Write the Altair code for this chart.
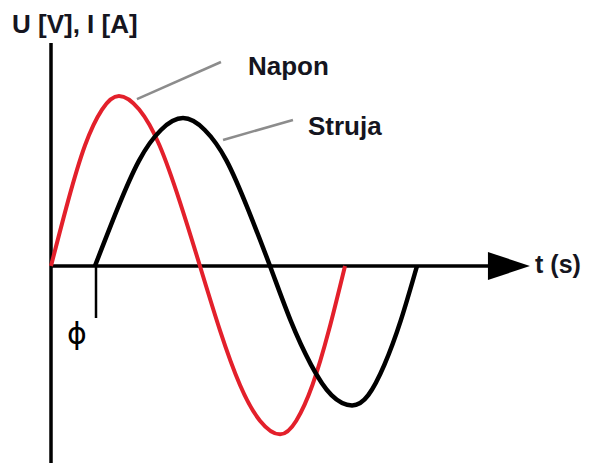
import altair as alt
import pandas as pd

# Napon (voltage) curve: time in ms, value relative to voltage peak
u_t = [0, 1.13, 2.27, 3.4, 4.53, 5.88, 7.23, 8.58, 9.93, 11.27, 12.6, 13.93, 15.27, 16.35, 17.43, 18.52, 19.6]
u_v = [0, 0.38, 0.71, 0.92, 1.0, 0.92, 0.71, 0.38, 0, -0.38, -0.70, -0.91, -0.99, -0.91, -0.70, -0.38, 0]
# Struja (current) curve
i_t = [2.93, 4.4, 5.87, 7.33, 8.8, 10.25, 11.7, 13.15, 14.6, 15.97, 17.33, 18.7, 20.07, 21.15, 22.23, 23.32, 24.4]
i_v = [0, 0.33, 0.62, 0.80, 0.87, 0.80, 0.62, 0.33, 0, -0.32, -0.58, -0.76, -0.82, -0.76, -0.58, -0.32, 0]

# axes (drawn, no ticks)
axis_x = [{"t": 0, "t2": 29.3, "v": 0, "v2": 0}]
axis_y = [{"t": 0, "t2": 0, "v": -1.1588, "v2": 1.3118}]
phase_tick = [{"t": 3.0, "t2": 3.0, "v": 0, "v2": -0.306}]
arrow = [{"t": 30.53, "v": 0}]

# leader lines to the series labels
leaders = [
    {"t": 5.73, "v": 0.982, "t2": 11.33, "v2": 1.2},
    {"t": 11.47, "v": 0.741, "t2": 16.13, "v2": 0.859},
]

labels = ["U [V], I [A]", "Napon", "Struja", "t (s)"]
label_t = [-2.6, 13.13, 17.13, 32.27]
label_v = [1.3706, 1.1235, 0.7706, -0.041]
label_size = [26, 26, 26, 25]

phi_label = ["ϕ"]
phi_t = [1.733]
phi_v = [-0.406]

xs = alt.Scale(domain=[-2.867, 35.467], nice=False, zero=False)
ys = alt.Scale(domain=[-1.1588, 1.5176], nice=False, zero=False)

def X(f="t"):
    return alt.X(f + ":Q", scale=xs, axis=None)

def Y(f="v"):
    return alt.Y(f + ":Q", scale=ys, axis=None)

df_u = pd.DataFrame({"t": u_t, "v": u_v})
df_i = pd.DataFrame({"t": i_t, "v": i_v})

base_rule = lambda data, color, w: alt.Chart(pd.DataFrame(data)).mark_rule(
    color=color, strokeWidth=w, strokeCap="butt"
).encode(x=X(), x2="t2:Q", y=Y(), y2="v2:Q")

ax_x = base_rule(axis_x, "black", 3.5)
ax_y = base_rule(axis_y, "black", 3.5)
ph = base_rule(phase_tick, "black", 2.5)
lead = base_rule(leaders, "#8c8c8c", 2.5)

arrow_head = alt.Chart(pd.DataFrame(arrow)).mark_point(
    shape="M-1,-0.667L1,0L-1,0.667Z", size=1764, filled=True, color="black", opacity=1, strokeWidth=0
).encode(x=X(), y=Y())

red = alt.Chart(df_u).mark_line(color="#e3202b", strokeWidth=4, interpolate="natural").encode(
    x=X(), y=Y(), order="t:Q"
)
blk = alt.Chart(df_i).mark_line(color="black", strokeWidth=4.5, interpolate="natural").encode(
    x=X(), y=Y(), order="t:Q"
)

txt = alt.Chart(pd.DataFrame({"t": label_t, "v": label_v, "label": labels, "size": label_size})).mark_text(
    font="Liberation Sans", fontWeight="bold", align="left", baseline="alphabetic", color="#151520"
).encode(x=X(), y=Y(), text="label:N", size=alt.Size("size:Q", scale=None, legend=None))

phi = alt.Chart(pd.DataFrame({"t": phi_t, "v": phi_v, "label": phi_label})).mark_text(
    font="DejaVu Sans", fontSize=30, align="center", baseline="middle", color="black"
).encode(x=X(), y=Y(), text="label:N")

chart = alt.layer(ax_x, ax_y, ph, lead, red, blk, arrow_head, txt, phi).properties(
    width=575, height=455, padding=0, autosize=alt.AutoSizeParams(type="none")
).configure_view(stroke=None)

chart.save("out.html", embed_options={"renderer": "svg", "actions": False})
